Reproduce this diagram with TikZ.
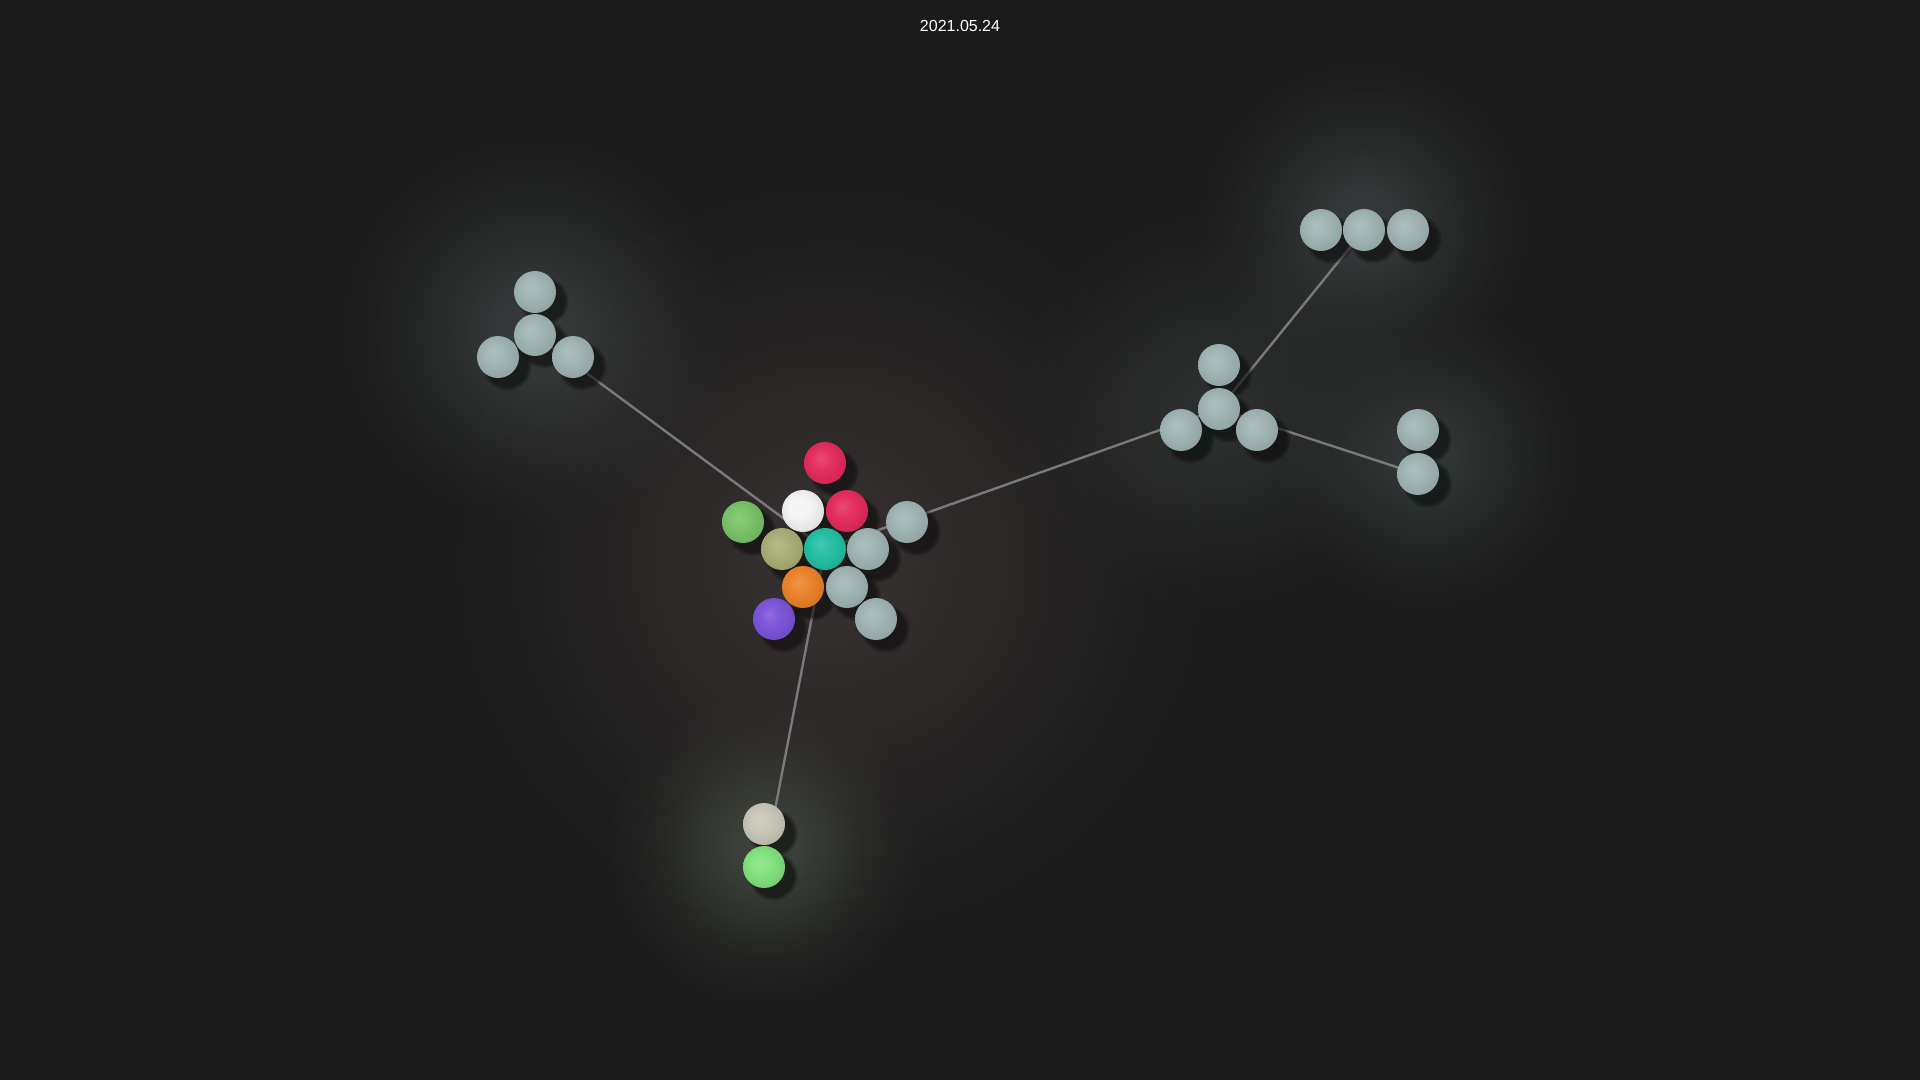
\documentclass[tikz,border=0pt]{standalone}
\usepackage{fontspec}
\setmainfont{Liberation Sans}
\usetikzlibrary{fadings}
\pgfdeclarelayer{glowlayer}
\pgfdeclarelayer{edgelayer}
\pgfdeclarelayer{shadowlayer}
\pgfsetlayers{glowlayer,edgelayer,shadowlayer,main}

\definecolor{bgc}{HTML}{1B1B1B}
\definecolor{gcenter}{HTML}{3A3333}
\definecolor{ggray}{HTML}{5A6262}
\definecolor{ggreen}{HTML}{5C6858}
\definecolor{edgec}{HTML}{7A7A7A}
\definecolor{shadowc}{HTML}{0A0A0A}
\definecolor{cred}{HTML}{E42A5C}
\definecolor{cwhite}{HTML}{F4F4F4}
\definecolor{cgreen}{HTML}{78C266}
\definecolor{colive}{HTML}{A9AE76}
\definecolor{cteal}{HTML}{22BFA2}
\definecolor{corange}{HTML}{EC8128}
\definecolor{cpurple}{HTML}{7B53D8}
\definecolor{cgray}{HTML}{9EB4B3}
\definecolor{cbeige}{HTML}{C8C6B7}
\definecolor{clime}{HTML}{82E27C}
\colorlet{bc}{cgray}

\pgfdeclareradialshading[bc]{matteball}{\pgfpoint{-6bp}{6bp}}{color(0bp)=(bc!85!white); color(12bp)=(bc!97!white); color(24bp)=(bc!94!black); color(31bp)=(bc!88!black); color(50bp)=(bc!80!black)}
\pgfdeclareradialshading{glowshade}{\pgfpointorigin}{color(0bp)=(black!0); color(5bp)=(black!12); color(10bp)=(black!38); color(15bp)=(black!66); color(20bp)=(black!88); color(25bp)=(black); color(50bp)=(black)}
\pgfdeclarefading{glowfade}{\pgfuseshading{glowshade}}

\tikzset{
  bcol/.code={\colorlet{bc}{#1}},
  ball/.style={circle, inner sep=0pt, minimum size=42pt, shade, shading=matteball, bcol=#1},
  edge/.style={draw=edgec, line width=2.4pt},
  shadowfill/.style={fill=shadowc, fill opacity=0.6, path fading=circle with fuzzy edge 20 percent},
  glow/.style={fill=#1, path fading=glowfade},
  datelabel/.style={text=white, font=\fontsize{16}{19}\selectfont, inner sep=0pt},
}

\begin{document}
\begin{tikzpicture}[x=1pt, y=-1pt]
\useasboundingbox (0,0) rectangle (1920,1080);

% balls: central cluster
\node[ball=cred]    (redtop) at (825,463) {};
\node[ball=cwhite]  (white)  at (803,511) {};
\node[ball=cred]    (red2)   at (847,511) {};
\node[ball=cgreen]  (green)  at (743,522) {};
\node[ball=cgray]   (g1)     at (907,522) {};
\node[ball=colive]  (olive)  at (782,549) {};
\node[ball=cteal]   (teal)   at (825,549) {};
\node[ball=cgray]   (g2)     at (868,549) {};
\node[ball=corange] (orange) at (803,587) {};
\node[ball=cgray]   (g3)     at (847,587) {};
\node[ball=cpurple] (purple) at (774,619) {};
\node[ball=cgray]   (g4)     at (876,619) {};

% top-left cluster
\node[ball=cgray] (tltop) at (535,292) {};
\node[ball=cgray] (tlmid) at (535,335) {};
\node[ball=cgray] (tlleft) at (498,357) {};
\node[ball=cgray] (tlright) at (573,357) {};

% right-middle cluster
\node[ball=cgray] (rmtop) at (1219,365) {};
\node[ball=cgray] (rmmid) at (1219,409) {};
\node[ball=cgray] (rmleft) at (1181,430) {};
\node[ball=cgray] (rmright) at (1257,430) {};

% top-right row
\node[ball=cgray] (tra) at (1321,230) {};
\node[ball=cgray] (trb) at (1364,230) {};
\node[ball=cgray] (trc) at (1408,230) {};

% right pair
\node[ball=cgray] (rpa) at (1418,430) {};
\node[ball=cgray] (rpb) at (1418,474) {};

% bottom pair
\node[ball=cbeige] (bta) at (764,824) {};
\node[ball=clime]  (btb) at (764,867) {};

\node[datelabel] (date) at (960,26) {2021.05.24};

\begin{pgfonlayer}{glowlayer}
  \fill[bgc] (0,0) rectangle (1920,1080);
  \fill[glow=gcenter, fill opacity=0.9] (830,560) circle (400);
  \fill[glow=ggray, fill opacity=0.45] (535,330) circle (200);
  \fill[glow=ggray, fill opacity=0.3] (1215,410) circle (210);
  \fill[glow=ggray, fill opacity=0.45] (1364,225) circle (170);
  \fill[glow=ggray, fill opacity=0.4] (1425,455) circle (160);
  \fill[glow=ggreen, fill opacity=0.5] (764,850) circle (160);
\end{pgfonlayer}

\begin{pgfonlayer}{edgelayer}
  \draw[edge] (tlmid.center) -- (teal.center);
  \draw[edge] (teal.center) -- (rmmid.center);
  \draw[edge] (teal.center) -- (btb.center);
  \draw[edge] (rmmid.center) -- (trb.center);
  \draw[edge] (rmmid.center) -- (rpb.center);
\end{pgfonlayer}

\begin{pgfonlayer}{shadowlayer}
  \foreach \n in {redtop,white,red2,green,g1,olive,teal,g2,orange,g3,purple,g4,tltop,tlmid,tlleft,tlright,rmtop,rmmid,rmleft,rmright,tra,trb,trc,rpa,rpb,bta,btb}
    \fill[shadowfill] ([shift={(9,9)}]\n.center) circle (25);
\end{pgfonlayer}
\end{tikzpicture}
\end{document}
